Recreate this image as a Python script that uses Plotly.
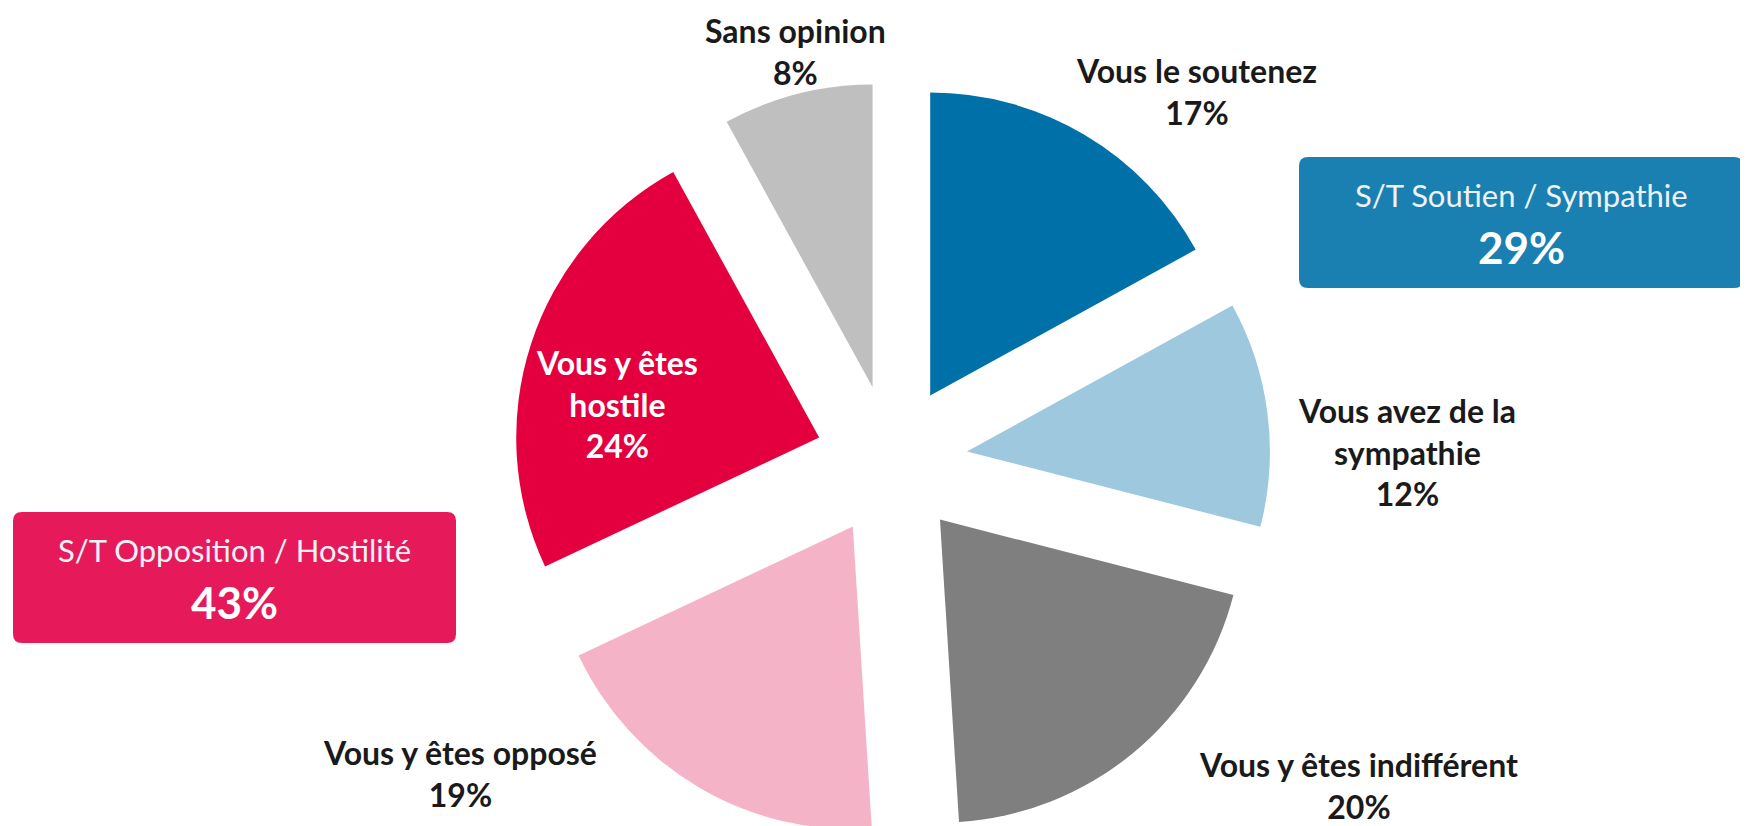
import plotly.graph_objects as go

# ---- data ----
labels = ["Vous le soutenez", "Vous avez de la sympathie", "Vous y êtes indifférent",
          "Vous y êtes opposé", "Vous y êtes hostile", "Sans opinion"]
label_lines = ["Vous le soutenez", "Vous avez de la<br>sympathie", "Vous y êtes indifférent",
               "Vous y êtes opposé", "Vous y êtes<br>hostile", "Sans opinion"]
values = [17, 12, 20, 19, 24, 8]
colors = ["#0070A8", "#9DC8DE", "#7F7F7F", "#F5B3C8", "#E4003F", "#BFBFBF"]
group_names = ["S/T Soutien / Sympathie", "S/T Opposition / Hostilité"]
group_members = [[0, 1], [3, 4]]
group_colors = ["#1A80B1", "#E61A5A"]

FW, FH = 1748, 860
OFF = 8  # default page body margin
FONT = "Lato"

def px(x):
    return (x - OFF) / FW

def py(y):
    return 1 - (y - OFF) / FH

# pie box (window pixels): center (891.5, 461), half size 379
cx, cy, half = 891.5, 461, 379
fig = go.Figure(go.Pie(
    labels=labels, values=values, sort=False, direction="clockwise", rotation=0,
    marker=dict(colors=colors, line=dict(width=0)),
    pull=[0.251] * len(values), textinfo="none", hoverinfo="label+percent",
    domain=dict(x=[px(cx - half), px(cx + half)], y=[py(cy + half), py(cy - half)]),
    showlegend=False,
))

label_pos = [(1196, 91), (1407, 452), (1358, 785), (460, 773), (617, 404), (795, 51)]
label_col = ["#1a1a1a", "#1a1a1a", "#1a1a1a", "#1a1a1a", "#FFFFFF", "#1a1a1a"]
annotations = []
for i, (txt, v) in enumerate(zip(label_lines, values)):
    x, y = label_pos[i]
    annotations.append(dict(
        x=px(x), y=py(y), xref="paper", yref="paper", showarrow=False,
        text=f"<b>{txt}<br>{v}%</b>", align="center",
        font=dict(family=FONT, size=32, color=label_col[i]),
        xanchor="center", yanchor="middle", borderpad=0,
    ))

boxes = [(1299, 157, 1743, 288), (13, 512, 456, 643)]
shapes = []
rad = 9
for (x0, y0, x1, y1), col, name, members in zip(boxes, group_colors, group_names, group_members):
    path = (f"M {px(x0+rad)},{py(y0)} L {px(x1-rad)},{py(y0)} Q {px(x1)},{py(y0)} {px(x1)},{py(y0+rad)} "
            f"L {px(x1)},{py(y1-rad)} Q {px(x1)},{py(y1)} {px(x1-rad)},{py(y1)} "
            f"L {px(x0+rad)},{py(y1)} Q {px(x0)},{py(y1)} {px(x0)},{py(y1-rad)} "
            f"L {px(x0)},{py(y0+rad)} Q {px(x0)},{py(y0)} {px(x0+rad)},{py(y0)} Z")
    shapes.append(dict(type="path", path=path, xref="paper", yref="paper",
                       fillcolor=col, line=dict(width=0), layer="below"))
    total = sum(values[m] for m in members)
    bx = (x0 + x1) / 2
    annotations.append(dict(x=px(bx), y=py(y0 + 38), xref="paper", yref="paper", showarrow=False,
                            text=name, font=dict(family=FONT, size=31, color="#EEF2F6"),
                            xanchor="center", yanchor="middle"))
    annotations.append(dict(x=px(bx), y=py(y0 + 90), xref="paper", yref="paper", showarrow=False,
                            text=f"<b>{total}%</b>", font=dict(family=FONT, size=44, color="#FFFFFF"),
                            xanchor="center", yanchor="middle"))

fig.update_layout(
    width=FW, height=FH, margin=dict(l=0, r=0, t=0, b=0),
    paper_bgcolor="white", plot_bgcolor="white",
    annotations=annotations, shapes=shapes,
)
fig.write_html("out.html")
